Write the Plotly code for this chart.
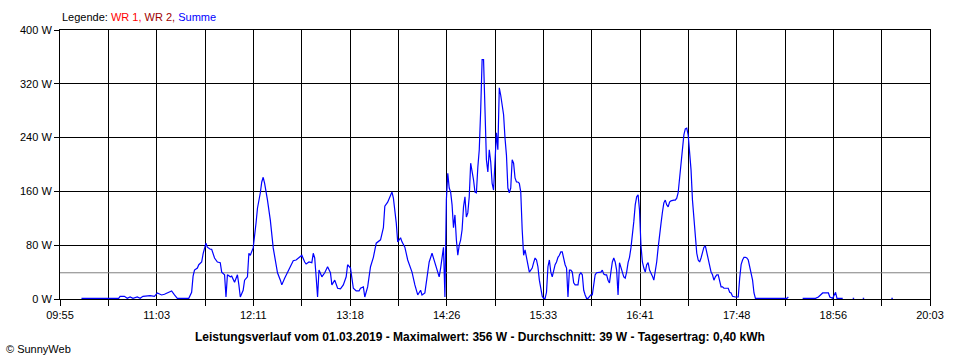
import plotly.graph_objects as go

# ---- data: minutes within each hour and Summe power in W ----
H10_MIN = [10, 13, 36, 37, 40, 42, 44, 46, 49, 51, 53, 58]
H10_W = [1, 1, 1, 4, 4, 1, 3, 1, 3, 1, 4, 5]

H11_MIN = [1, 3, 6, 8, 10, 12, 13, 15, 17, 18, 25, 27, 28, 29, 31, 32, 34, 35, 36, 37,
           38, 40, 41, 43, 45, 47, 48, 50, 51, 52, 54, 55, 57, 59]
H11_W = [4, 9, 6, 7, 9, 10, 12, 6, 1, 1, 1, 10, 34, 43, 46, 51, 55, 67, 77, 83,
         77, 74, 74, 61, 55, 54, 40, 36, 3, 36, 33, 34, 25, 36]

H12_MIN = [0, 1, 3, 4, 6, 7, 8, 10, 12, 13, 15, 16, 17, 18, 20, 21, 22, 24, 25, 27,
           29, 30, 32, 34, 36, 38, 40, 42, 44, 46, 47, 49, 51, 52, 53, 54, 55, 56, 58]
H12_W = [21, 3, 13, 28, 33, 68, 65, 76, 113, 135, 158, 174, 181, 172, 147, 132, 117, 76, 62, 39,
         28, 21, 31, 39, 48, 57, 58, 61, 65, 55, 52, 55, 54, 68, 61, 33, 3, 43, 33]

H13_MIN = [0, 2, 4, 5, 7, 9, 11, 13, 15, 16, 18, 20, 22, 24, 25, 27, 28, 30, 32, 34,
           36, 39, 41, 42, 44, 46, 47, 48, 49, 50, 51, 53, 54, 56, 58]
H13_W = [39, 48, 39, 21, 28, 16, 15, 21, 33, 51, 46, 16, 12, 12, 16, 18, 3, 18, 48, 62,
         83, 88, 106, 138, 144, 156, 159, 150, 132, 113, 85, 91, 85, 77, 58]

H14_MIN = [1, 3, 5, 7, 8, 10, 12, 13, 15, 17, 19,
           20, 21, 22, 23, 24, 25, 26, 27, 28, 29,
           30, 31, 32, 33, 34, 35, 36, 37, 38, 39,
           40, 41, 42, 43, 44, 45, 46, 47, 48, 49,
           50, 51, 52, 53, 54, 55, 56, 57, 58, 59]
H14_W = [40, 21, 6, 13, 6, 9, 39, 55, 68, 54, 43,
         33, 46, 62, 77, 3, 147, 187, 165, 159, 140,
         106, 125, 88, 65, 80, 88, 103, 137, 152, 122,
         128, 152, 202, 192, 177, 159, 158, 196, 222, 281,
         356, 356, 260, 207, 189, 222, 204, 172, 162, 214]

H15_MIN = list(range(0, 60))
H15_W = [247, 222, 314, 303, 290, 274, 239, 214, 165, 158,
         165, 207, 202, 180, 174, 174, 172, 159, 103, 65,
         73, 62, 51, 40, 43, 46, 54, 61, 58, 48,
         28, 13, 4, 1, 1, 10, 48, 58, 40, 33,
         43, 51, 55, 62, 65, 70, 70, 58, 51, 46,
         3, 43, 43, 40, 24, 21, 21, 21, 36, 39]

H16_MIN = list(range(0, 60))
H16_W = [36, 13, 6, 1, 1, 3, 6, 6, 21, 36,
         39, 39, 39, 40, 43, 37, 36, 36, 28, 24,
         40, 55, 61, 55, 43, 6, 54, 48, 40, 33,
         31, 40, 54, 62, 76, 92, 115, 140, 152, 155,
         132, 80, 55, 46, 40, 51, 54, 43, 39, 34,
         28, 40, 55, 76, 100, 112, 129, 143, 147, 140]

H17_MIN = list(range(0, 60))
H17_W = [137, 144, 146, 147, 147, 147, 150, 158, 180, 207,
         229, 244, 253, 254, 244, 219, 192, 147, 120, 88,
         68, 58, 55, 61, 68, 77, 79, 68, 58, 46,
         40, 36, 28, 33, 36, 36, 28, 18, 18, 16,
         16, 16, 16, 10, 9, 4, 3, 3, 3, 3,
         31, 51, 58, 62, 62, 61, 58, 49, 40, 28]

H18_MIN = [0, 1, 23, 24, 25, 34, 43, 45, 48, 52, 53, 55, 57, 58]
H18_W = [9, 1, 1, 3, None, 1, 1, 3, 9, 9, 3, 1, 10, 1]

H19_MIN = [2, 3, 9, 10, 11, 16, 17, 18, 36, 37]
H19_W = [1, None, 1, 1, None, 1, 1, None, 1, 1]

HOURS = [(10, H10_MIN, H10_W), (11, H11_MIN, H11_W), (12, H12_MIN, H12_W),
         (13, H13_MIN, H13_W), (14, H14_MIN, H14_W), (15, H15_MIN, H15_W),
         (16, H16_MIN, H16_W), (17, H17_MIN, H17_W), (18, H18_MIN, H18_W),
         (19, H19_MIN, H19_W)]

AVG_W = 39
X_START = 9 * 60 + 55   # 09:55
X_END = 20 * 60 + 3     # 20:03
N_GRID = 18
X_LABELS = ["09:55", "11:03", "12:11", "13:18", "14:26", "15:33", "16:41", "17:48", "18:56", "20:03"]
Y_TICKS = [0, 80, 160, 240, 320, 400]
Y_LABELS = [f"{v} W" for v in Y_TICKS]
TITLE = ("Leistungsverlauf vom 01.03.2019 - Maximalwert: 356 W - Durchschnitt: 39 W"
         " - Tagesertrag: 0,40 kWh")

xs, ys = [], []
for h, mins, ws in HOURS:
    for m, w in zip(mins, ws):
        xs.append(h * 60 + m)
        ys.append(w)

tickvals = [X_START + k * (X_END - X_START) / N_GRID for k in range(N_GRID + 1)]
ticktext = [X_LABELS[k // 2] if k % 2 == 0 else "" for k in range(N_GRID + 1)]

FONT = "Liberation Sans, Arial, sans-serif"

fig = go.Figure()
# average line (Durchschnitt)
fig.add_trace(go.Scatter(x=[X_START, X_END], y=[AVG_W, AVG_W], mode="lines",
                         name="Durchschnitt", line=dict(color="#808080", width=1),
                         hoverinfo="skip"))
fig.add_trace(go.Scatter(x=xs, y=ys, mode="lines", name="Summe",
                         line=dict(color="#0000ff", width=1.2), connectgaps=False,
                         hoverinfo="skip"))

axis_common = dict(showgrid=True, gridcolor="black", gridwidth=1, showline=True,
                   linecolor="black", linewidth=1, mirror=True, ticks="outside",
                   tickcolor="black", tickwidth=1, zeroline=False,
                   tickfont=dict(family=FONT, size=11, color="black"))

fig.update_xaxes(range=[X_START, X_END], tickmode="array", tickvals=tickvals,
                 ticktext=ticktext, ticklen=6, **axis_common)
fig.update_yaxes(range=[0, 400], tickmode="array", tickvals=Y_TICKS,
                 ticktext=Y_LABELS, ticklen=5, **axis_common)

fig.add_annotation(xref="paper", yref="paper", x=0, y=1 + 13 / 269,
                   xanchor="left", yanchor="middle", showarrow=False,
                   text='Legende: <span style="color:#ff0000">WR 1,</span> '
                        '<span style="color:#a00000">WR 2,</span> '
                        '<span style="color:#0000ff">Summe</span>',
                   font=dict(family=FONT, size=11, color="black"))
fig.add_annotation(xref="paper", yref="paper", x=(480 - 60) / 870, y=(299 - 337) / 269,
                   xanchor="center", yanchor="middle", showarrow=False,
                   text="<b>" + TITLE + "</b>",
                   font=dict(family=FONT, size=12, color="black"))
fig.add_annotation(xref="paper", yref="paper", x=(4 - 60) / 870, y=(299 - 349) / 269,
                   xanchor="left", yanchor="middle", showarrow=False,
                   text="© SunnyWeb",
                   font=dict(family=FONT, size=11, color="black"))

fig.update_layout(width=960, height=360, autosize=False,
                  margin=dict(l=60, r=30, t=30, b=61),
                  plot_bgcolor="white", paper_bgcolor="white",
                  showlegend=False, hovermode=False,
                  font=dict(family=FONT, color="black"))

fig.write_html("out.html", config={"displayModeBar": False, "staticPlot": True},
               post_script="document.body.style.margin='0';document.body.style.overflow='hidden';")
